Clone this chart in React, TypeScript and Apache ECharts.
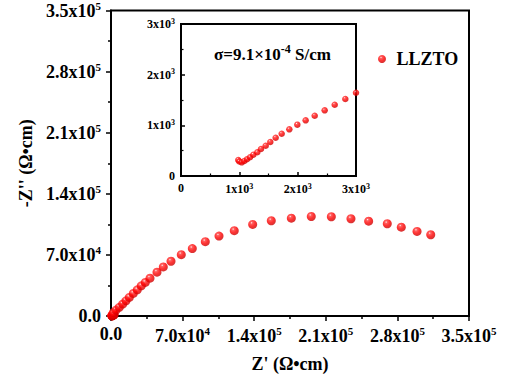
import React, { useEffect, useRef } from "react";
import * as echarts from "echarts";

// Inset (high-frequency) data: Z' and -Z'' in Ω•cm
const insetZre = [982, 1000, 1041, 1085, 1131, 1183, 1240, 1308, 1371, 1452, 1531, 1623, 1726, 1857, 1994, 2137, 2292, 2463, 2635, 2817, 3000];
const insetZim = [316, 285, 270, 296, 330, 369, 420, 468, 533, 598, 671, 756, 835, 921, 1013, 1099, 1190, 1296, 1407, 1520, 1644];

// Main plot data beyond the inset range
const mainZre = [2250, 4890, 8110, 11440, 14660, 17890, 21800, 25710, 29620, 33530, 38130, 44970, 51130, 58660, 68700, 79500, 92200, 105600, 120500, 138500, 156700, 176300, 195800, 215400, 234600, 251900, 270100, 283800, 299200, 312600];
const mainZim = [3760, 6840, 9920, 13680, 17440, 21320, 25880, 29980, 34540, 38420, 43320, 50160, 56200, 62700, 70300, 77200, 85170, 91550, 97700, 104900, 109100, 112100, 114000, 113700, 111400, 108600, 105700, 101800, 96900, 93100];

const mainTickValues = [0, 70000, 140000, 210000, 280000, 350000];
const mainTickLabels = ["0.0", "7.0x10^4", "1.4x10^5", "2.1x10^5", "2.8x10^5", "3.5x10^5"];
const insetTickValues = [0, 1000, 2000, 3000];
const insetTickLabels = ["0", "1x10^3", "2x10^3", "3x10^3"];

const seriesName = "LLZTO";
const xTitle = "Z' (Ω•cm)";
const yTitle = "-Z'' (Ω•cm)";

const FONT = "'Liberation Serif','Times New Roman',serif";

function richLabel(label: string) {
  const [b, s] = label.split("^");
  return s ? `{b|${b}}{s|${s}}` : `{b|${b}}`;
}

function labelFormatter(values: number[], labels: string[]) {
  return (v: number) => {
    const i = values.findIndex((t) => Math.abs(t - v) < 1e-6);
    return i >= 0 ? richLabel(labels[i]) : "";
  };
}

const sphere = {
  type: "radial",
  x: 0.38,
  y: 0.32,
  r: 0.7,
  colorStops: [
    { offset: 0, color: "#fff0f0" },
    { offset: 0.18, color: "#ff3a3a" },
    { offset: 0.55, color: "#ff0000" },
    { offset: 1, color: "#c80000" },
  ],
};

export default function App() {
  const ref = useRef<HTMLDivElement>(null);
  useEffect(() => {
    if (!ref.current) return;
    const chart = echarts.init(ref.current, undefined, { renderer: "svg" });

    const mainRich = {
      b: { fontSize: 18, fontWeight: "bold", fontFamily: FONT, color: "#000" },
      s: { fontSize: 11, fontWeight: "bold", fontFamily: FONT, color: "#000", padding: [0, 0, 10, 0] },
    };
    const insetRich = {
      b: { fontSize: 12, fontWeight: "bold", fontFamily: FONT, color: "#000" },
      s: { fontSize: 8, fontWeight: "bold", fontFamily: FONT, color: "#000", padding: [0, 0, 6, 0] },
    };
    const lineStyle = { color: "#000", width: 2 };

    const mainAxis = (isX: boolean) => ({
      type: "value",
      gridIndex: 0,
      min: 0,
      max: 350000,
      interval: 70000,
      axisLine: { show: true, onZero: false, lineStyle },
      axisTick: { show: true, inside: false, length: 5, lineStyle: { color: "#000", width: 1.5 } },
      minorTick: { show: true, splitNumber: 2, length: 3, lineStyle: { color: "#000", width: 1.5 } },
      splitLine: { show: false },
      minorSplitLine: { show: false },
      axisLabel: {
        margin: isX ? 9 : 10,
        formatter: labelFormatter(mainTickValues, mainTickLabels),
        rich: mainRich,
      },
      name: isX ? xTitle : yTitle,
      nameLocation: "middle",
      nameGap: isX ? 39 : 70,
      nameTextStyle: { fontFamily: FONT, fontSize: 18, fontWeight: "bold", color: "#000" },
    });

    const insetAxis = () => ({
      type: "value",
      gridIndex: 1,
      min: 0,
      max: 3000,
      interval: 1000,
      axisLine: { show: true, onZero: false, lineStyle },
      axisTick: { show: true, inside: true, length: 4, lineStyle: { color: "#000", width: 1.5 } },
      minorTick: { show: true, splitNumber: 2, length: 2.5, lineStyle: { color: "#000", width: 1.2 } },
      splitLine: { show: false },
      minorSplitLine: { show: false },
      axisLabel: {
        margin: 6,
        formatter: labelFormatter(insetTickValues, insetTickLabels),
        rich: insetRich,
      },
    });

    const mainData = insetZre
      .map((x, i) => [x, insetZim[i]])
      .concat(mainZre.map((x, i) => [x, mainZim[i]]));
    const insetData = insetZre.map((x, i) => [x, insetZim[i]]);

    chart.setOption({
      animation: false,
      backgroundColor: "#fff",
      grid: [
        { left: 111, top: 9, right: 38, bottom: 63, show: true, borderColor: "#000", borderWidth: 2, backgroundColor: "transparent" },
        { left: 181, top: 24, right: 151, bottom: 203, show: true, borderColor: "#000", borderWidth: 2, backgroundColor: "#fff" },
      ],
      xAxis: [mainAxis(true), insetAxis()],
      yAxis: [mainAxis(false), insetAxis()],
      legend: {
        data: [seriesName],
        left: 373,
        top: 45,
        icon: "circle",
        itemWidth: 19,
        itemHeight: 8,
        textStyle: { fontFamily: FONT, fontSize: 18, fontWeight: "bold", color: "#000" },
      },
      graphic: [
        {
          type: "text",
          left: 214,
          top: 43,
          z: 100,
          style: {
            text: "{a|σ=9.1×10}{s|-4}{a| S/cm}",
            rich: {
              a: { fontSize: 17, fontWeight: "bold", fontFamily: FONT, fill: "#000" },
              s: { fontSize: 12, fontWeight: "bold", fontFamily: FONT, fill: "#000", padding: [0, 0, 10, 0] },
            },
          },
        },
      ],
      series: [
        {
          name: seriesName,
          type: "scatter",
          xAxisIndex: 0,
          yAxisIndex: 0,
          symbol: "circle",
          symbolSize: 9,
          itemStyle: { color: sphere },
          data: mainData,
        },
        {
          name: "inset",
          type: "scatter",
          xAxisIndex: 1,
          yAxisIndex: 1,
          symbol: "circle",
          symbolSize: 6.5,
          itemStyle: { color: sphere },
          data: insetData,
          clip: false,
        },
      ],
    });
    return () => chart.dispose();
  }, []);
  return (
    <div
      ref={ref}
      style={{ position: "fixed", left: 0, top: 0, width: 507, height: 379 }}
    />
  );
}
